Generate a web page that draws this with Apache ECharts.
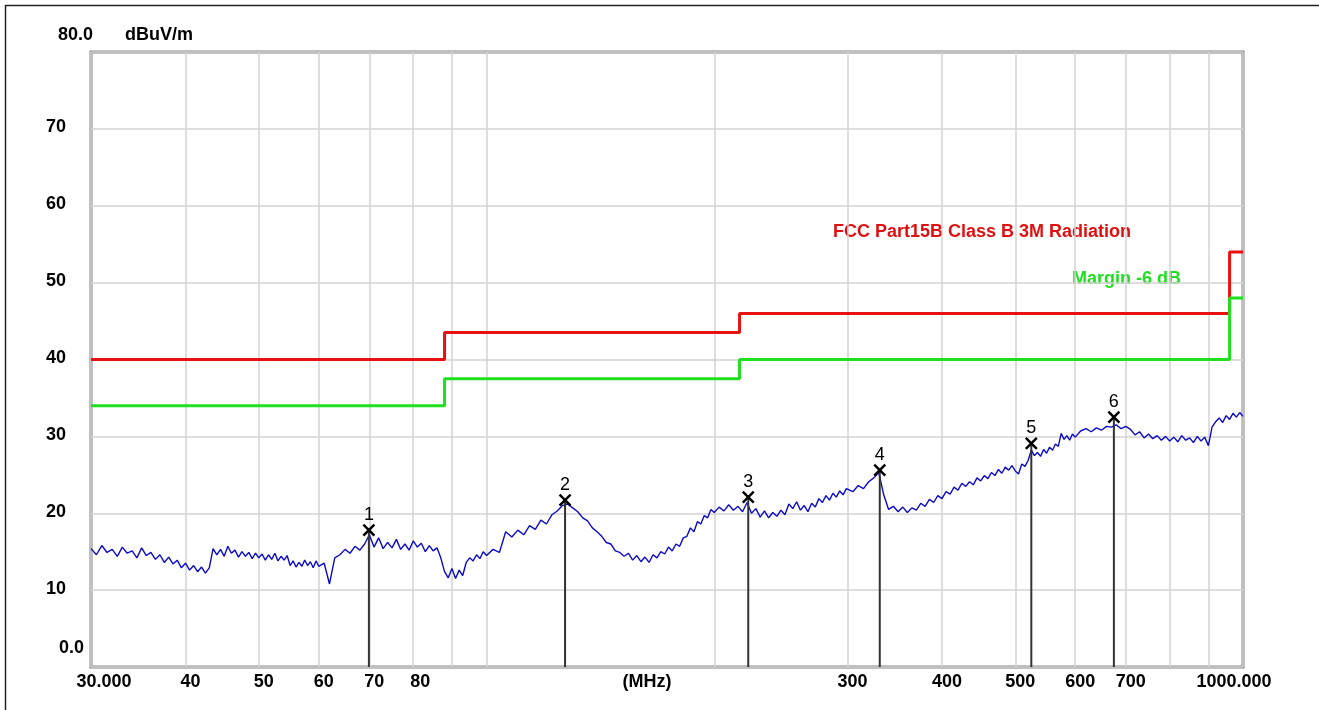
<!DOCTYPE html>
<html>
<head>
<meta charset="utf-8">
<script src="https://cdn.jsdelivr.net/npm/echarts@6/dist/echarts.min.js"></script>
<style>
html,body{margin:0;padding:0;background:#fff;}
#chart{width:1319px;height:710px;}
</style>
</head>
<body>
<div id="chart"></div>
<script>
// ---- Data ----
const freqMHz = [
 30,30.5,31,31.5,32,32.5,33,33.5,34,34.5,35,35.5,36,36.5,37,37.5,38,38.5,39,39.5,
 40,40.5,41,41.5,42,42.5,43,43.5,44,44.5,45,45.5,46,46.5,47,47.5,48,48.5,49,49.5,
 50,50.5,51,51.5,52,52.5,53,53.5,54,54.5,55,55.5,56,56.5,57,57.5,58,58.5,59,59.5,60,
 61,62,63,64,65,66,67,68,69,70,71,72,73,74,75,76,77,78,79,80,
 81,82,83,84,85,86,87,88,89,90,91,92,93,94,95,96,97,98,99,100,
 102,104,106,108,110,112,114,116,118,120,122,124,126,128,130,132,134,136,138,140,
 142,144,146,148,150,152,154,156,158,160,162,164,166,168,170,172,174,176,178,180,
 182,184,186,188,190,192,194,196,198,200,
 203,206,209,212,215,218,221,224,227,230,233,236,239,242,245,248,251,254,257,260,
 263,266,269,272,275,278,281,284,287,290,293,296,299,
 305,310,315,320,325,330,335,340,345,350,355,360,365,370,375,380,385,390,395,400,
 405,410,415,420,425,430,435,440,445,450,455,460,465,470,475,480,485,490,495,500,
 505,510,515,520,525,530,535,540,545,550,555,560,565,570,575,580,585,590,595,600,
 610,620,630,640,650,660,670,680,690,700,710,720,730,740,750,760,770,780,790,800,
 810,820,830,840,850,860,870,880,890,900,910,920,930,940,950,960,970,980,990,1000
];
const levelDbuV = [
 15.4,14.6,15.8,14.9,15.3,14.4,15.6,14.8,15.1,14.2,15.5,14.5,14.9,14.0,14.6,13.6,14.3,13.4,13.9,12.9,
 13.5,12.6,13.2,12.4,13.0,12.2,12.9,15.4,14.6,15.3,14.4,15.7,14.8,15.2,14.3,15.0,14.4,14.9,14.1,14.8,
 14.2,14.7,13.9,14.6,14.0,14.8,13.8,14.4,13.9,14.5,13.2,13.8,13.0,13.6,13.1,13.9,13.2,13.7,12.9,13.8,13.1,
 13.5,10.8,14.2,14.6,15.3,14.8,15.7,15.2,16.0,17.2,15.6,16.8,15.4,16.2,15.5,16.6,15.3,16.0,15.2,16.4,
 15.6,16.1,15.0,15.8,15.1,15.5,14.2,12.4,11.6,12.8,11.5,12.6,11.9,13.6,14.2,13.8,14.6,14.1,15.0,14.5,
 15.3,14.9,17.6,16.9,17.8,17.2,18.4,17.9,19.1,18.6,19.8,20.3,21.0,21.2,20.7,20.2,19.4,19.0,18.1,17.6,
 17.0,16.2,16.0,15.1,14.9,14.4,14.8,13.9,14.5,13.7,14.3,13.6,14.6,14.2,15.0,14.7,15.6,15.1,16.0,15.7,
 16.8,17.0,18.1,17.6,18.9,18.6,19.7,19.4,20.5,20.1,
 20.8,20.3,21.1,20.4,20.9,20.2,21.4,20.0,20.6,19.5,20.3,19.4,20.1,19.6,20.4,19.8,21.2,20.6,21.5,20.4,
 21.0,20.2,21.3,20.8,21.9,21.4,22.3,21.7,22.6,22.1,22.9,22.4,23.2,
 22.8,23.6,23.2,24.1,24.6,25.3,22.4,20.5,20.9,20.2,20.8,20.1,20.7,20.4,21.3,20.9,21.8,21.4,22.3,21.9,
 22.8,22.5,23.4,23.0,23.9,23.5,24.1,23.7,24.6,24.2,24.9,24.5,25.3,24.9,25.7,25.2,26.0,25.6,26.2,25.5,
 25.1,26.4,26.1,26.9,28.2,27.5,27.9,27.4,28.3,27.8,28.6,28.2,29.0,28.7,30.4,29.6,30.1,29.5,30.3,29.9,
 30.7,31.0,30.6,31.1,30.8,31.3,31.2,31.5,31.0,31.3,30.9,30.2,30.6,29.8,30.3,29.7,30.1,29.5,30.0,29.4,
 29.9,29.3,30.1,29.5,29.8,29.2,30.0,29.4,29.9,28.8,31.2,31.9,32.4,31.8,32.7,32.2,33.0,32.5,33.1,32.6
];
// FCC Part15B Class B 3M limit (step line) and -6 dB margin
const limitFreq   = [30, 88, 88, 216, 216, 960, 960, 1000];
const limitLevel  = [40, 40, 43.5, 43.5, 46, 46, 54, 54];
const marginLevel = [34, 34, 37.5, 37.5, 40, 40, 48, 48];
// Markers
const markerNo    = [1, 2, 3, 4, 5, 6];
const markerFreq  = [69.9, 127, 221.8, 331, 525, 675];
const markerLevel = [17.8, 21.7, 22.1, 25.6, 29.1, 32.5];
// Axis ticks / labels
const xGridTicks  = [30,40,50,60,70,80,90,100,200,300,400,500,600,700,800,900,1000];
const xLabelTicks = [30,40,50,60,70,80,300,400,500,600,700,1000];
const xLabelText  = {30:'30.000',40:'40',50:'50',60:'60',70:'70',80:'80',300:'300',400:'400',500:'500',600:'600',700:'700',1000:'1000.000'};
const yLabelText  = {0:'0.0',10:'10',20:'20',30:'30',40:'40',50:'50',60:'60',70:'70',80:'80.0'};

const FONT = '"Liberation Sans", Arial, sans-serif';
const chart = echarts.init(document.getElementById('chart'), null, {renderer:'canvas'});

const tracePairs  = freqMHz.map((f, i) => [f, levelDbuV[i]]);
const limitPairs  = limitFreq.map((f, i) => [f, limitLevel[i]]);
const marginPairs = limitFreq.map((f, i) => [f, marginLevel[i]]);
const markerData  = markerFreq.map((f, i) => [f, markerLevel[i], markerNo[i]]);

const labelBase = {fontFamily: FONT, fontSize: 18, fontWeight: 'bold', color: '#000'};

const option = {
  animation: false,
  backgroundColor: '#ffffff',
  grid: {left: 91, right: 76, top: 52, bottom: 43, show: true, borderColor: '#858585', borderWidth: 3, backgroundColor: 'transparent'},
  xAxis: {
    type: 'log', logBase: 10, min: 30, max: 1000,
    axisLine: {show: false},
    axisTick: {show: false, customValues: xGridTicks},
    splitLine: {show: true, lineStyle: {color: '#d3d3d3', width: 1.5}},
    axisLabel: {
      customValues: xLabelTicks, interval: 0, margin: 6,
      formatter: function (v) {
        const k = Math.round(v);
        const t = xLabelText[k] || '';
        let s = 'n';
        if (k === 30) s = 'first'; else if (k === 1000) s = 'last'; else if (k === 80) s = 'e80';
        return '{' + s + '|' + t + '}';
      },
      rich: {
        n: Object.assign({}, labelBase, {padding: [0, 0, 0, 10]}),
        e80: Object.assign({}, labelBase, {padding: [0, 0, 0, 14]}),
        first: Object.assign({}, labelBase, {padding: [0, 0, 0, 26]}),
        last: Object.assign({}, labelBase, {padding: [0, 18, 0, 0]})
      }
    },
    name: '(MHz)', nameLocation: 'middle', nameGap: 6, nameMoveOverlap: false,
    nameTextStyle: Object.assign({}, labelBase, {padding: [0, 40, 0, 0]})
  },
  yAxis: {
    type: 'value', min: 0, max: 80, interval: 10,
    axisLine: {show: false}, axisTick: {show: false},
    splitLine: {show: true, lineStyle: {color: '#d3d3d3', width: 1.5}},
    axisLabel: {
      align: 'left', margin: 45,
      formatter: function (v) {
        const t = yLabelText[v];
        let s = 'n';
        if (v === 80) s = 'top'; else if (v === 0) s = 'zero';
        return '{' + s + '|' + t + '}';
      },
      rich: {
        n: Object.assign({}, labelBase, {padding: [0, 0, 3, 0]}),
        top: Object.assign({}, labelBase, {padding: [0, 0, 34, 12]}),
        zero: Object.assign({}, labelBase, {padding: [0, 0, 38, 13]})
      }
    },
    name: 'dBuV/m', nameLocation: 'end', nameGap: 17, nameMoveOverlap: false,
    nameTextStyle: Object.assign({}, labelBase, {align: 'left', verticalAlign: 'middle', padding: [0, 0, 0, 34]})
  },
  graphic: [
    {type: 'line', shape: {x1: 5.5, y1: 5, x2: 5.5, y2: 712}, style: {stroke: '#222', lineWidth: 1.5}, silent: true},
    {type: 'line', shape: {x1: 5, y1: 5.5, x2: 1320, y2: 5.5}, style: {stroke: '#222', lineWidth: 1.5}, silent: true},
    {type: 'text', left: 833, top: 223, style: {text: 'FCC Part15B Class B 3M Radiation', fill: '#e01010', font: 'bold 18px ' + FONT}, silent: true},
    {type: 'text', left: 1072, top: 270, style: {text: 'Margin -6 dB', fill: '#1ee01e', font: 'bold 18px ' + FONT}, silent: true}
  ],
  series: [
    {
      type: 'line', name: 'Limit', data: limitPairs, showSymbol: false, symbol: 'none',
      lineStyle: {color: '#e81010', width: 3}, z: 3
    },
    {
      type: 'line', name: 'Margin', data: marginPairs, showSymbol: false, symbol: 'none',
      lineStyle: {color: '#1ee01e', width: 3}, z: 3
    },
    {
      type: 'line', name: 'Trace', data: tracePairs, showSymbol: false, symbol: 'none',
      lineStyle: {color: '#0c0cc8', width: 1.4}, z: 4
    },
    {
      type: 'custom', name: 'Markers', data: markerData, z: 5,
      encode: {x: 0, y: 1},
      renderItem: function (params, api) {
        const f = api.value(0), v = api.value(1), n = api.value(2);
        const p = api.coord([f, v]);
        const b = api.coord([f, 0]);
        const h = 5.5;
        return {
          type: 'group',
          children: [
            {type: 'line', shape: {x1: p[0], y1: p[1], x2: b[0], y2: b[1]}, style: {stroke: '#333', lineWidth: 2}},
            {type: 'line', shape: {x1: p[0] - h, y1: p[1] - h, x2: p[0] + h, y2: p[1] + h}, style: {stroke: '#000', lineWidth: 2.5}},
            {type: 'line', shape: {x1: p[0] - h, y1: p[1] + h, x2: p[0] + h, y2: p[1] - h}, style: {stroke: '#000', lineWidth: 2.5}},
            {type: 'text', x: p[0], y: p[1] - 15, style: {text: String(n), fill: '#000', font: '18px ' + FONT, align: 'center', verticalAlign: 'middle'}}
          ]
        };
      }
    }
  ]
};
chart.setOption(option);
</script>
</body>
</html>
